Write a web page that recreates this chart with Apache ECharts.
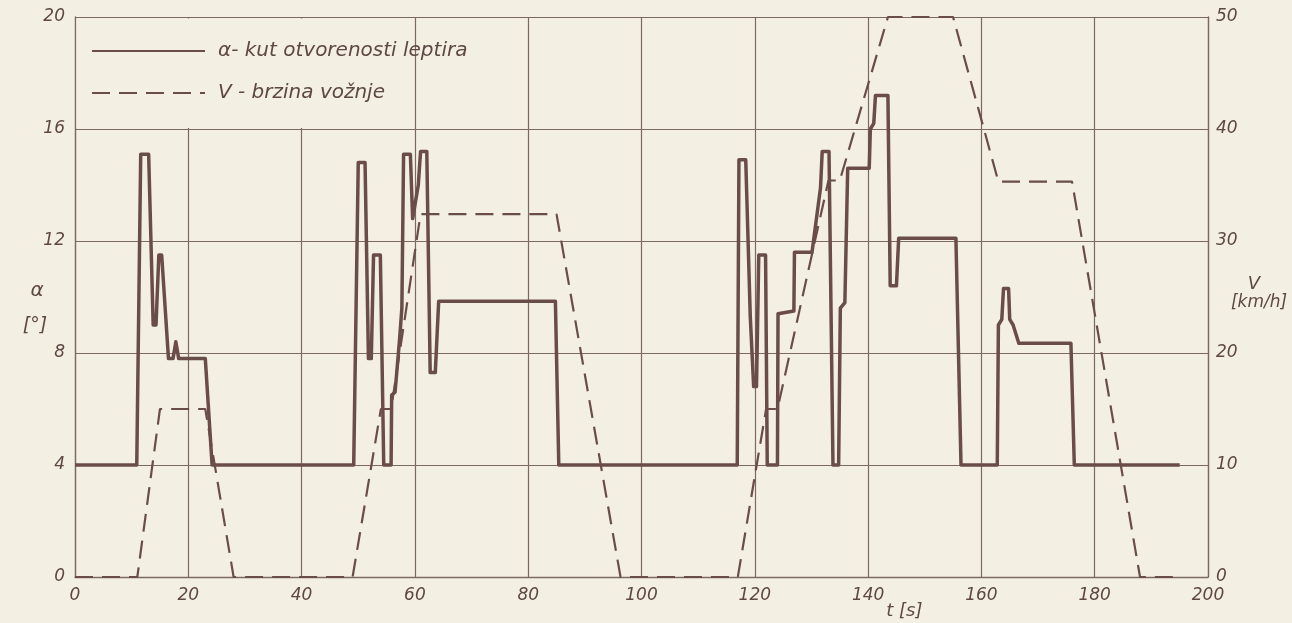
<!DOCTYPE html>
<html>
<head>
<meta charset="utf-8">
<script src="https://cdn.jsdelivr.net/npm/echarts@6/dist/echarts.min.js"></script>
<style>
html,body{margin:0;padding:0;background:#f3f0e3;}
#c{width:1292px;height:623px;}
</style>
</head>
<body>
<div id="c"></div>
<script>
// time axis ticks
var tTicks = [0, 20, 40, 60, 80, 100, 120, 140, 160, 180, 200];
// alpha (throttle angle, deg) – times and values
var alphaT = [0,10.9,11.6,13,13.8,14.3,14.8,15.3,16.5,17.3,17.8,18.3,23,24.2,
  49.2,50,51.2,51.8,52.3,52.7,53.9,54.5,55.8,55.9,56.5,57.3,57.7,58,59.2,59.6,60.6,61,62.1,62.7,63.6,64.2,84.8,85.4,
  116.9,117.2,118.4,119.2,119.8,120.3,120.7,121.9,122.2,124,124.1,126.9,127,130.1,131.6,131.9,133.1,133.8,134.8,135.1,135.9,136.4,140.2,140.4,141,141.3,143.5,143.9,145,145.4,155.5,156.4,162.8,163,163.6,163.9,164.8,165,165.6,166.6,175.8,176.4,195];
var alphaV = [4,4,15.1,15.1,9,9,11.5,11.5,7.8,7.8,8.4,7.8,7.8,4,
  4,14.8,14.8,7.8,7.8,11.5,11.5,4,4,6.5,6.6,8.5,9.6,15.1,15.1,12.8,14,15.2,15.2,7.3,7.3,9.85,9.85,4,
  4,14.9,14.9,9.3,6.8,6.8,11.5,11.5,4,4,9.4,9.5,11.6,11.6,13.9,15.2,15.2,4,4,9.6,9.8,14.6,14.6,16,16.2,17.2,17.2,10.4,10.4,12.1,12.1,4,4,9,9.2,10.3,10.3,9.2,9,8.35,8.35,4,4];
// vehicle speed (km/h) – times and values
var speedT = [0,11,15,23,28,49,54,55.8,61,85,96.3,117,122,124,133,135,143.5,155,163,176,188,195];
var speedV = [0,0,15,15,0,0,15,15,32.4,32.4,0,0,15,15,35.4,35.4,50,50,35.3,35.3,0,0];
var alphaTicks = [0, 4, 8, 12, 16, 20];
var speedTicks = [0, 10, 20, 30, 40, 50];

function zip(a, b) { return a.map(function (v, i) { return [v, b[i]]; }); }

var bg = '#f3f0e3';
var ink = '#5e4744';
var lineInk = '#6a4c49';
var gridInk = '#7d6864';
var font = 'DejaVu Sans';

var chart = echarts.init(document.getElementById('c'));
var option = {
  backgroundColor: bg,
  animation: false,
  grid: { left: 75, right: 84, top: 17, bottom: 46, containLabel: false, outerBoundsMode: 'none' },
  legend: {
    orient: 'vertical', left: 86, top: 36,
    itemWidth: 113, itemHeight: 14, itemGap: 22,
    itemStyle: { opacity: 0 },
    textStyle: { fontFamily: font, fontStyle: 'italic', fontSize: 20, color: ink, padding: [0, 0, 0, 8] },
    data: ['α- kut otvorenosti leptira', 'V - brzina vožnje']
  },
  xAxis: {
    type: 'value', min: tTicks[0], max: tTicks[tTicks.length - 1], interval: 20,
    axisLine: { show: true, lineStyle: { color: gridInk, width: 1.3 } },
    axisTick: { show: false },
    splitLine: { show: true, lineStyle: { color: gridInk, width: 1.2 } },
    axisLabel: { fontFamily: font, fontStyle: 'italic', fontSize: 17, color: ink, margin: 10 }
  },
  yAxis: [{
    type: 'value', min: alphaTicks[0], max: alphaTicks[alphaTicks.length - 1], interval: 4,
    axisLine: { show: true, lineStyle: { color: gridInk, width: 1.3 } },
    axisTick: { show: false },
    splitLine: { show: true, lineStyle: { color: gridInk, width: 1.2 } },
    axisLabel: { fontFamily: font, fontStyle: 'italic', fontSize: 17, color: ink, margin: 10 }
  }, {
    type: 'value', min: speedTicks[0], max: speedTicks[speedTicks.length - 1], interval: 10,
    position: 'right',
    axisLine: { show: true, lineStyle: { color: gridInk, width: 1.3 } },
    axisTick: { show: false },
    splitLine: { show: false },
    axisLabel: { fontFamily: font, fontStyle: 'italic', fontSize: 17, color: ink, margin: 8 }
  }],
  series: [{
    name: 'α- kut otvorenosti leptira', type: 'line', yAxisIndex: 0,
    data: zip(alphaT, alphaV), symbol: 'none', z: 3,
    lineStyle: { color: lineInk, width: 3.5, join: 'round' },
    itemStyle: { color: lineInk }
  }, {
    name: 'V - brzina vožnje', type: 'line', yAxisIndex: 1,
    data: zip(speedT, speedV), symbol: 'none', z: 4,
    lineStyle: { color: lineInk, width: 2.2, type: [18, 9] },
    itemStyle: { color: lineInk }
  }]
};
chart.setOption(option);

// mask the grid lines behind the legend box (0..60 s, 16..20 deg)
var p0 = chart.convertToPixel({ xAxisIndex: 0, yAxisIndex: 0 }, [0, 20]);
var p1 = chart.convertToPixel({ xAxisIndex: 0, yAxisIndex: 0 }, [60, 16]);
var pt = chart.convertToPixel({ xAxisIndex: 0, yAxisIndex: 0 }, [143.2, 0]);
var pR = chart.convertToPixel({ xAxisIndex: 0, yAxisIndex: 0 }, [200, 10]);
var pL = chart.convertToPixel({ xAxisIndex: 0, yAxisIndex: 0 }, [0, 10]);
function label(txt, x, y, size) {
  return {
    type: 'text', z: 5, x: x, y: y,
    style: { text: txt, font: 'italic ' + size + 'px "DejaVu Sans"', fill: ink, textAlign: 'center', textVerticalAlign: 'middle' }
  };
}
chart.setOption({
  graphic: [{
    type: 'rect', z: 1,
    shape: { x: p0[0] + 1.5, y: p0[1] + 1.5, width: p1[0] - p0[0] - 2.5, height: p1[1] - p0[1] - 2.5 },
    style: { fill: bg }
  }, {
    type: 'text', z: 5,
    x: pt[0], y: pt[1] + 25,
    style: { text: 't [s]', font: 'italic 18px "DejaVu Sans"', fill: ink }
  },
  label('α', pL[0] - 38, pL[1] - 6, 20),
  label('[°]', pL[0] - 40, pL[1] + 29, 19),
  label('V', pR[0] + 46, pR[1] - 13, 18),
  label('[km/h]', pR[0] + 51, pR[1] + 6, 17)
  ]
});
</script>
</body>
</html>
